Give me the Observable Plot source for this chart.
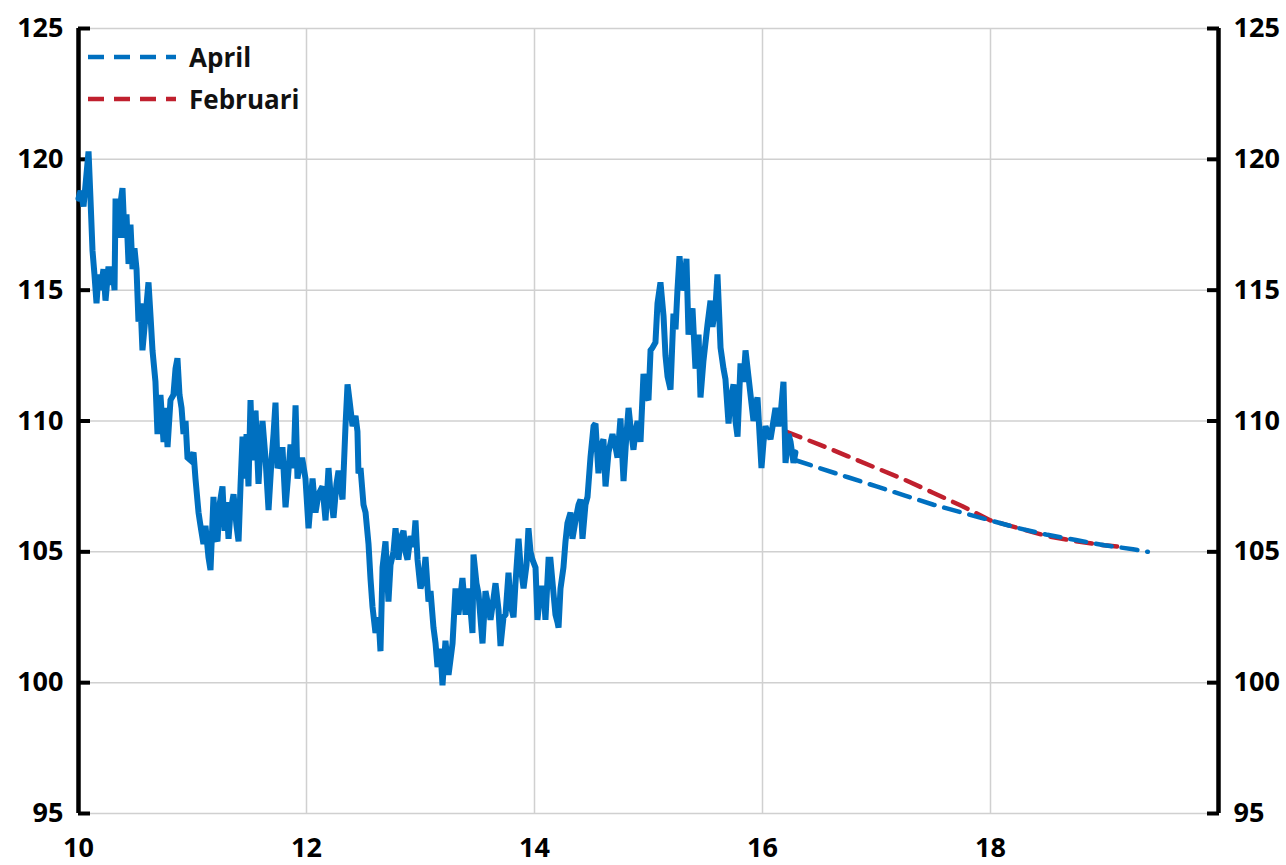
<!DOCTYPE html>
<html>
<head>
<meta charset="utf-8">
<script src="https://cdn.jsdelivr.net/npm/d3@7"></script>
<script src="https://cdn.jsdelivr.net/npm/@observablehq/plot@0.6"></script>
<style>
  html, body { margin: 0; padding: 0; background: #fff; }
  #wrap { position: relative; width: 1286px; height: 865px; }
  #legend { position: absolute; left: 88px; top: 36px; font-family: "Open Sans", Lato, sans-serif; font-weight: bold; font-size: 26px; color: #111; }
  .item { display: flex; align-items: center; height: 42px; }
  .item svg { margin-right: 13px; }
</style>
</head>
<body>
<div id="wrap"><div id="legend"></div></div>
<script>
// Historical series (decimal years, index values)
const histYear = [10.000,10.018,10.044,10.061,10.088,10.105,10.123,10.140,10.158,10.175,10.193,10.219,10.237,10.263,10.281,10.298,10.316,10.325,10.351,10.368,10.386,10.404,10.421,10.439,10.456,10.474,10.491,10.509,10.526,10.544,10.561,10.588,10.614,10.632,10.649,10.675,10.693,10.719,10.746,10.763,10.781,10.807,10.833,10.851,10.868,10.886,10.904,10.921,10.939,10.956,10.982,11.009,11.026,11.053,11.070,11.096,11.114,11.140,11.158,11.184,11.202,11.219,11.237,11.263,11.281,11.298,11.316,11.333,11.360,11.386,11.404,11.421,11.439,11.456,11.474,11.491,11.509,11.526,11.553,11.579,11.596,11.614,11.640,11.667,11.693,11.711,11.728,11.746,11.772,11.789,11.816,11.833,11.860,11.886,11.904,11.921,11.947,11.965,11.991,12.018,12.053,12.079,12.105,12.140,12.167,12.193,12.211,12.237,12.263,12.281,12.316,12.342,12.360,12.377,12.404,12.430,12.447,12.456,12.474,12.500,12.518,12.544,12.561,12.579,12.605,12.632,12.649,12.667,12.693,12.719,12.737,12.763,12.781,12.807,12.825,12.851,12.868,12.886,12.912,12.939,12.956,12.974,13.000,13.026,13.044,13.070,13.088,13.114,13.132,13.149,13.175,13.193,13.219,13.246,13.281,13.307,13.333,13.351,13.368,13.395,13.421,13.439,13.456,13.465,13.491,13.509,13.544,13.570,13.596,13.614,13.640,13.658,13.684,13.702,13.728,13.746,13.772,13.789,13.816,13.833,13.860,13.877,13.904,13.930,13.947,13.965,13.982,14.009,14.026,14.053,14.079,14.096,14.123,14.140,14.167,14.184,14.202,14.211,14.228,14.254,14.272,14.289,14.316,14.333,14.360,14.386,14.404,14.421,14.447,14.465,14.491,14.518,14.535,14.561,14.579,14.605,14.623,14.649,14.684,14.711,14.728,14.754,14.781,14.807,14.825,14.842,14.868,14.886,14.904,14.930,14.956,14.974,15.000,15.018,15.035,15.061,15.079,15.105,15.132,15.149,15.167,15.193,15.219,15.237,15.254,15.272,15.298,15.316,15.333,15.351,15.368,15.386,15.412,15.439,15.456,15.482,15.518,15.544,15.561,15.588,15.605,15.632,15.658,15.675,15.702,15.719,15.746,15.763,15.781,15.807,15.833,15.851,15.877,15.895,15.921,15.939,15.956,15.974,15.991,16.009,16.026,16.053,16.070,16.096,16.114,16.140,16.158,16.184,16.202,16.228,16.246,16.272,16.289];
const histValue = [118.5,118.8,118.2,119.0,120.3,118.5,116.5,115.6,114.5,115.6,115.0,115.8,114.6,115.9,115.2,115.9,115.0,118.5,117.0,118.3,118.9,117.0,117.9,116.0,117.5,115.8,116.6,115.8,113.8,114.5,112.7,114.0,115.3,114.0,112.7,111.5,109.5,111.0,109.2,110.5,109.0,110.8,111.0,112.0,112.4,111.0,110.5,109.5,110.0,108.6,108.5,108.8,107.8,106.5,106.0,105.3,106.0,104.8,104.3,107.1,105.6,105.4,106.8,107.5,105.8,106.9,105.5,106.5,107.2,106.0,105.4,107.5,109.4,107.8,109.5,107.5,110.8,108.5,110.4,107.6,109.0,110.0,108.6,106.6,108.5,109.5,110.7,108.2,108.5,109.0,106.7,107.6,109.1,108.2,110.6,107.8,108.5,108.5,107.8,105.9,107.8,106.5,107.2,107.5,106.2,108.2,107.2,106.3,107.6,108.1,107.0,109.8,111.4,110.8,109.8,110.2,109.6,108.0,108.2,106.8,106.5,105.3,104.0,102.9,101.9,102.5,101.2,104.4,105.4,103.1,104.5,105.0,105.9,104.7,105.5,105.8,105.0,104.7,105.6,105.2,106.2,104.7,103.6,104.0,104.8,103.1,103.5,102.1,101.5,100.6,101.3,99.9,101.6,100.3,101.5,103.6,102.6,103.3,104.0,102.6,103.6,102.8,101.9,104.9,103.8,103.4,101.5,103.5,102.9,102.4,103.2,103.8,102.8,101.4,102.5,102.6,104.2,103.0,102.5,103.8,105.5,104.5,103.6,104.5,105.9,105.0,104.7,104.4,102.4,103.6,103.6,102.4,104.7,104.7,103.4,102.6,102.3,102.1,103.6,104.4,105.4,106.1,106.5,105.5,106.2,106.8,107.0,105.5,106.8,107.1,108.6,109.8,109.9,108.0,109.0,109.3,107.5,108.8,109.5,109.0,108.6,110.1,107.7,109.5,110.5,109.8,108.9,109.6,110.0,109.2,111.8,111.0,110.8,112.7,112.8,113.0,114.5,115.3,114.0,112.5,111.7,111.2,114.1,113.5,115.0,116.3,115.0,115.2,116.2,113.3,114.0,114.3,112.0,113.3,110.9,112.3,113.7,114.6,113.6,114.4,115.6,112.8,112.0,111.6,109.9,110.8,111.4,110.0,109.4,112.2,111.5,112.7,111.7,111.0,110.0,110.6,110.9,109.5,108.2,109.2,109.8,109.5,109.3,110.0,110.5,109.8,110.2,111.5,108.4,109.5,109.2,108.4,108.8];

// Forecasts
const aprilYear = [16.29,16.5,16.75,17.0,17.25,17.5,17.75,18.0,18.25,18.5,18.75,19.0,19.25,19.38];
const aprilValue = [108.5,108.2,107.85,107.5,107.15,106.8,106.5,106.2,105.9,105.65,105.45,105.25,105.1,105.0];
const februariYear = [16.2,16.5,16.75,17.0,17.25,17.5,17.75,18.0,18.25,18.5,18.75,19.0,19.11];
const februariValue = [109.6,109.1,108.65,108.2,107.75,107.25,106.75,106.2,105.9,105.6,105.4,105.25,105.2];

// Axes
const xTicks = [10, 12, 14, 16, 18];
const xGrid = [12, 14, 16, 18];
const yTicks = [95, 100, 105, 110, 115, 120, 125];
const seriesNames = ["April", "Februari"];
const colors = {April: "#0070C0", Februari: "#C0202E"};

const hist = histYear.map((x, i) => ({x, y: histValue[i]}));
const april = aprilYear.map((x, i) => ({x, y: aprilValue[i]}));
const feb = februariYear.map((x, i) => ({x, y: februariValue[i]}));

const chart = Plot.plot({
  width: 1286,
  height: 865,
  marginTop: 28,
  marginBottom: 52,
  marginLeft: 78,
  marginRight: 68,
  style: {fontFamily: "'Open Sans', Lato, sans-serif", fontSize: "27px", fontWeight: "bold", color: "#000", background: "#fff", overflow: "visible"},
  x: {domain: [10, 20]},
  y: {domain: [95, 125]},
  marks: [
    Plot.gridY(yTicks, {stroke: "#d0d0d0", strokeOpacity: 1, strokeWidth: 1.5}),
    Plot.gridX(xGrid, {stroke: "#d0d0d0", strokeOpacity: 1, strokeWidth: 1.5}),
    Plot.axisX(xTicks, {anchor: "bottom", tickSize: 0, tickPadding: 24, label: null, tickFormat: d => String(d), fontSize: 27, fontWeight: "bold"}),
    Plot.axisY(yTicks, {anchor: "left", tickSize: 0, tickPadding: 15, label: null, fontSize: 27, fontWeight: "bold"}),
    Plot.axisY(yTicks, {anchor: "right", tickSize: 0, tickPadding: 15, label: null, fontSize: 27, fontWeight: "bold"}),
    Plot.axisY(yTicks, {anchor: "left", tickSize: 12, dx: 12, tickPadding: 0, tickFormat: () => "", label: null, strokeWidth: 4}),
    Plot.axisY(yTicks, {anchor: "right", tickSize: 12, dx: -12, tickPadding: 0, tickFormat: () => "", label: null, strokeWidth: 4}),
    Plot.ruleX([10, 20], {stroke: "#000", strokeWidth: 4.5}),
    Plot.line(feb, {x: "x", y: "y", stroke: colors.Februari, strokeWidth: 4.5, strokeDasharray: "16,10"}),
    Plot.line(april, {x: "x", y: "y", stroke: colors.April, strokeWidth: 4.5, strokeDasharray: "16,10"}),
    Plot.line(hist, {x: "x", y: "y", stroke: colors.April, strokeWidth: 6, strokeLinejoin: "miter", strokeMiterlimit: 2})
  ]
});

const wrap = document.getElementById("wrap");
wrap.insertBefore(chart, wrap.firstChild);

const legend = document.getElementById("legend");
for (const name of seriesNames) {
  const item = document.createElement("div");
  item.className = "item";
  item.innerHTML = `<svg width="88" height="8"><line x1="0" y1="4" x2="88" y2="4" stroke="${colors[name]}" stroke-width="4.5" stroke-dasharray="16,10"/></svg><span>${name}</span>`;
  legend.appendChild(item);
}
</script>
</body>
</html>
